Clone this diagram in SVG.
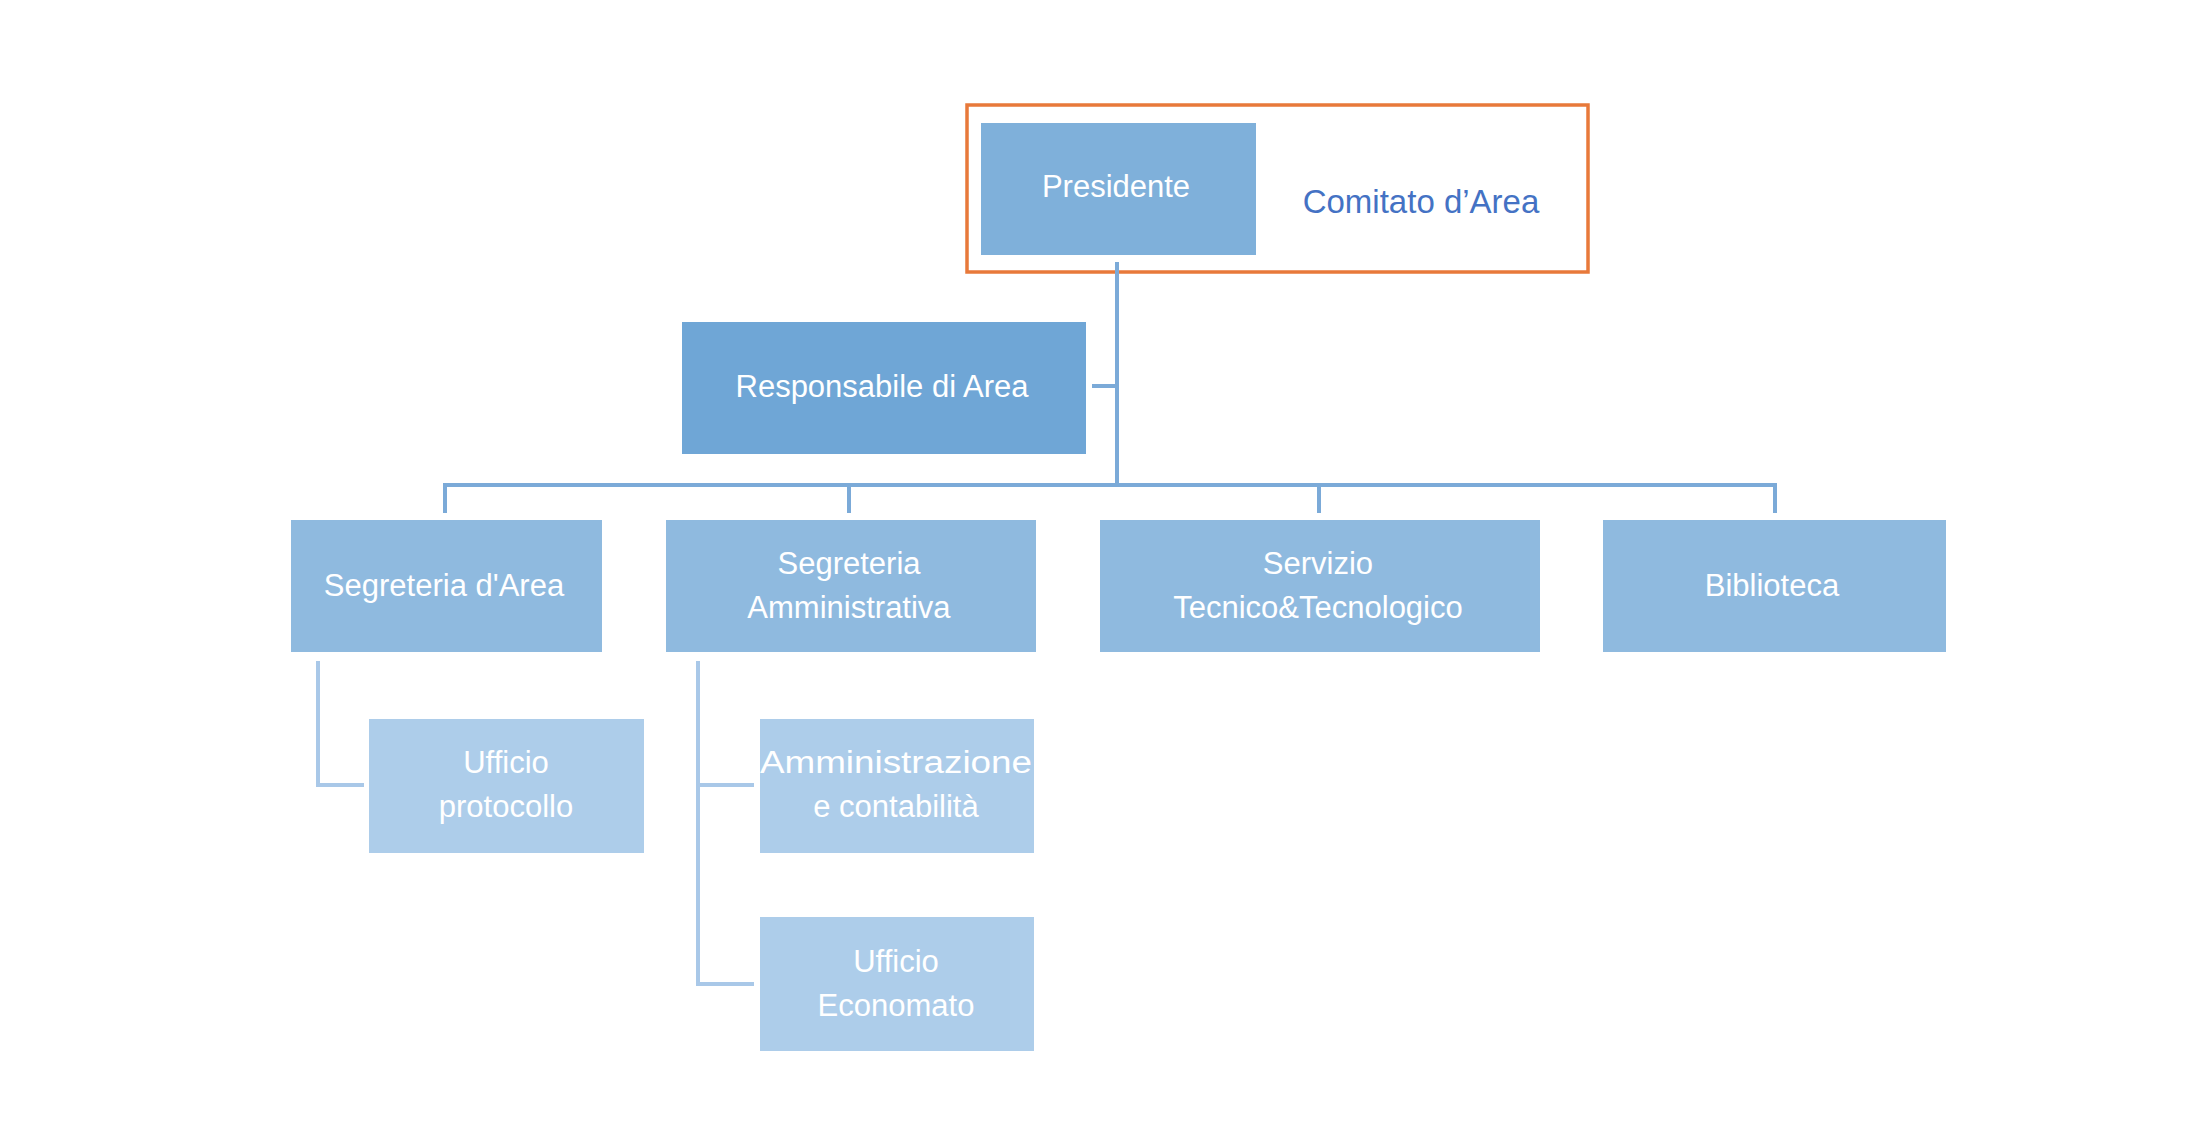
<svg xmlns="http://www.w3.org/2000/svg" width="2186" height="1142" viewBox="0 0 2186 1142">
<style>
text{font-family:"Liberation Sans",Arial,sans-serif;font-size:31px;fill:#fff;text-anchor:middle}
.c{fill:none;stroke:#7BAAD8;stroke-width:4}
.s{stroke:#A9C8E8}
</style>
<rect width="2186" height="1142" fill="#fff"/>
<g id="comitato">
<rect x="967" y="105" width="621" height="167" fill="none" stroke="#E8793A" stroke-width="3.5"/>
<text x="1421" y="213" style="fill:#4472C4;font-size:33px">Comitato d’Area</text>
</g>
<g id="connectors">
<path class="c" d="M1117 262V485M1092 386H1117M445 513V485H1775V513M849 485V513M1319 485V513"/>
<path class="c s" d="M318 661V785H364M698 661V984H754M698 785H754"/>
</g>
<g id="presidente"><rect x="981" y="123" width="275" height="132" fill="#7FB0DA"/><text x="1116" y="197">Presidente</text></g>
<g id="responsabile"><rect x="682" y="322" width="404" height="132" fill="#6FA6D6"/><text x="882" y="397">Responsabile di Area</text></g>
<g id="segreteria-area"><rect x="291" y="520" width="311" height="132" fill="#8FBADF"/><text x="444" y="596">Segreteria d'Area</text></g>
<g id="segreteria-amm"><rect x="666" y="520" width="370" height="132" fill="#8FBADF"/><text x="849" y="574">Segreteria</text><text x="849" y="618">Amministrativa</text></g>
<g id="servizio"><rect x="1100" y="520" width="440" height="132" fill="#8FBADF"/><text x="1318" y="574">Servizio</text><text x="1318" y="618">Tecnico&amp;Tecnologico</text></g>
<g id="biblioteca"><rect x="1603" y="520" width="343" height="132" fill="#8FBADF"/><text x="1772" y="596">Biblioteca</text></g>
<g id="ufficio-protocollo"><rect x="369" y="719" width="275" height="134" fill="#ADCDEA"/><text x="506" y="773">Ufficio</text><text x="506" y="817">protocollo</text></g>
<g id="amministrazione"><rect x="760" y="719" width="274" height="134" fill="#ADCDEA"/><text x="896" y="773" textLength="272" lengthAdjust="spacingAndGlyphs">Amministrazione</text><text x="896" y="817">e contabilità</text></g>
<g id="economato"><rect x="760" y="917" width="274" height="134" fill="#ADCDEA"/><text x="896" y="972">Ufficio</text><text x="896" y="1016">Economato</text></g>
</svg>
